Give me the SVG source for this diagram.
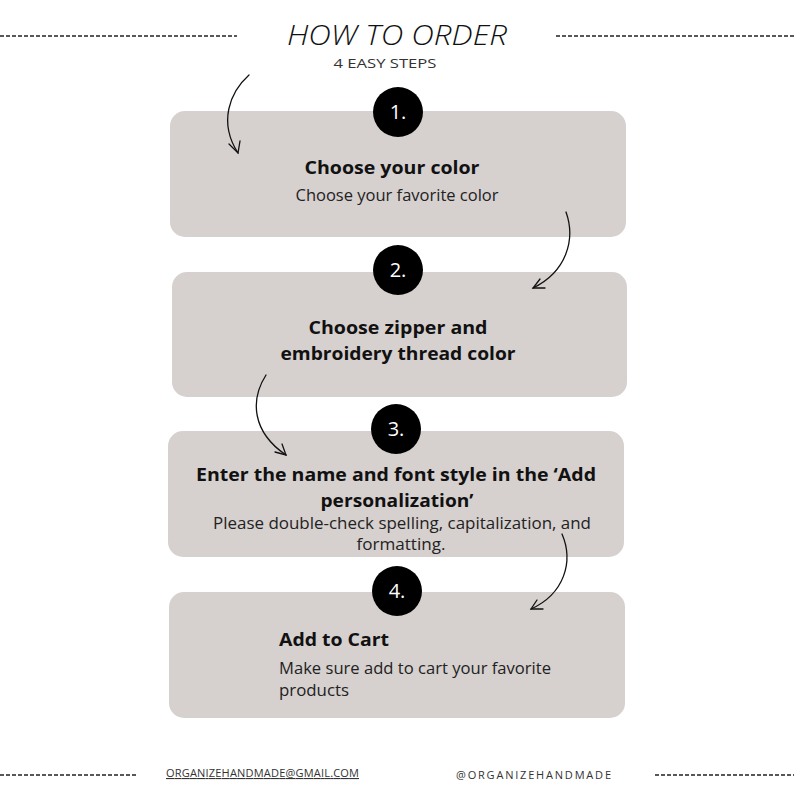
<svg xmlns="http://www.w3.org/2000/svg" width="794" height="794" viewBox="0 0 794 794">
<style>
.box{fill:#d6d0cf}
.num{fill:#000}
.nt{fill:#fff;font-family:"Open Sans",sans-serif;font-size:20px;text-anchor:middle}
.h{font-family:"Open Sans",sans-serif;font-weight:700;font-size:18px;fill:#111}
.b{font-family:"Open Sans",sans-serif;font-size:15.5px;fill:#222}
.c{text-anchor:middle}
.dash{stroke:#222;stroke-width:1.3;stroke-dasharray:4 2;fill:none}
.arr{stroke:#111;stroke-width:1.3;fill:none;stroke-linecap:round}
</style>
<rect width="794" height="794" fill="#fff"/>
<g id="header">
<line class="dash" x1="0" y1="36" x2="237" y2="36"/>
<line class="dash" x1="556" y1="36" x2="794" y2="36"/>
<text x="397" y="45" text-anchor="middle" font-family="Open Sans,sans-serif" font-style="italic" font-weight="300" font-size="27" fill="#111" textLength="220" lengthAdjust="spacingAndGlyphs">HOW TO ORDER</text>
<text x="385" y="68" text-anchor="middle" font-family="Open Sans,sans-serif" font-size="12.5" fill="#333" textLength="103" lengthAdjust="spacingAndGlyphs">4 EASY STEPS</text>
</g>
<g id="step1">
<rect class="box" x="170" y="111" width="456" height="126" rx="15"/>
<circle class="num" cx="398" cy="112" r="25"/>
<text class="nt" x="398" y="119">1.</text>
<text class="h c" x="392" y="174" textLength="175" lengthAdjust="spacingAndGlyphs">Choose your color</text>
<text class="b c" x="397" y="201" textLength="203" lengthAdjust="spacingAndGlyphs">Choose your favorite color</text>
</g>
<g id="step2">
<rect class="box" x="172" y="272" width="455" height="125" rx="15"/>
<circle class="num" cx="398" cy="270" r="25"/>
<text class="nt" x="398" y="277">2.</text>
<text class="h c" x="398" y="334" textLength="179" lengthAdjust="spacingAndGlyphs">Choose zipper and</text>
<text class="h c" x="398" y="360" textLength="235" lengthAdjust="spacingAndGlyphs">embroidery thread color</text>
</g>
<g id="step3">
<rect class="box" x="168" y="431" width="456" height="126" rx="15"/>
<circle class="num" cx="396" cy="429" r="25"/>
<text class="nt" x="396" y="436">3.</text>
<text class="h c" x="396" y="481" textLength="400" lengthAdjust="spacingAndGlyphs">Enter the name and font style in the ‘Add</text>
<text class="h c" x="397" y="507" textLength="153" lengthAdjust="spacingAndGlyphs">personalization’</text>
<text class="b c" x="402" y="529" textLength="378" lengthAdjust="spacingAndGlyphs">Please double-check spelling, capitalization, and</text>
<text class="b c" x="401" y="550" textLength="89" lengthAdjust="spacingAndGlyphs">formatting.</text>
</g>
<g id="step4">
<rect class="box" x="169" y="592" width="456" height="126" rx="15"/>
<circle class="num" cx="397" cy="591" r="25"/>
<text class="nt" x="397" y="598">4.</text>
<text class="h" x="279" y="646" textLength="110" lengthAdjust="spacingAndGlyphs">Add to Cart</text>
<text class="b" x="279" y="674" textLength="272" lengthAdjust="spacingAndGlyphs">Make sure add to cart your favorite</text>
<text class="b" x="279" y="696" textLength="70" lengthAdjust="spacingAndGlyphs">products</text>
</g>
<g id="connectors">
<path class="arr" d="M249,75 C230,92 218,122 238,153"/>
<path class="arr" d="M229,144 L238,153 L240,141"/>
<path class="arr" d="M566,212 C576,240 566,272 533,288"/>
<path class="arr" d="M540,279 L533,288 L545,288"/>
<path class="arr" d="M266,375 C250,400 252,432 286,455"/>
<path class="arr" d="M275,452 L286,455 L282,444"/>
<path class="arr" d="M562,534 C574,562 564,594 531,609"/>
<path class="arr" d="M537,600 L531,609 L543,609"/>
</g>
<g id="footer">
<line class="dash" x1="0" y1="775" x2="138" y2="775"/>
<line class="dash" x1="655" y1="775" x2="794" y2="775"/>
<text x="166" y="777" font-family="Open Sans,sans-serif" font-size="11" fill="#333" text-decoration="underline" textLength="193">ORGANIZEHANDMADE@GMAIL.COM</text>
<text x="456" y="779" font-family="Open Sans,sans-serif" font-size="11" fill="#333" textLength="155">@ORGANIZEHANDMADE</text>
</g>
</svg>
